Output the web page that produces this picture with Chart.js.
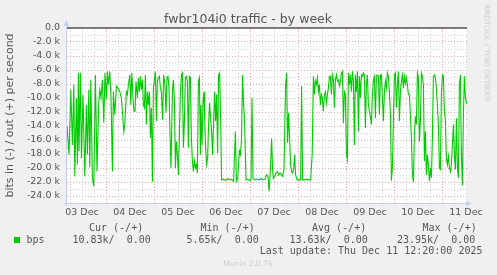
<!DOCTYPE html>
<html>
<head>
<meta charset="utf-8">
<script src="https://cdn.jsdelivr.net/npm/chart.js@4/dist/chart.umd.min.js"></script>
<style>
  body { margin: 0; background: #f0f0f0; }
  #wrap { position: relative; width: 497px; height: 275px; background: #f0f0f0; overflow: hidden; }
  canvas { position: absolute; left: 0; top: 0; }
  .t { position: absolute; white-space: pre; font: 10px 'DejaVu Sans Mono', monospace; color: #555; line-height: 12px; }
  .title { position: absolute; left: 0; width: 496px; text-align: center; top: 11px; font: 12.5px 'DejaVu Sans', sans-serif; color: #555; line-height: 15px; }
  .side { position: absolute; left: 487px; top: 53px; transform: translate(-50%, -50%) rotate(90deg); font: 7.5px 'DejaVu Sans', sans-serif; color: #ccc; white-space: nowrap; }
  .munin { position: absolute; left: 0; width: 496px; text-align: center; top: 259px; font: 7.5px 'DejaVu Sans', sans-serif; color: #ccc; line-height: 10px; }
  .sq { position: absolute; left: 14px; top: 237px; width: 6px; height: 6px; background: #00cc00; }
</style>
</head>
<body>
<div id="wrap">
  <canvas id="chart" width="497" height="275"></canvas>
  <div class="title">fwbr104i0 traffic - by week</div>
  <div class="side">RRDTOOL / TOBI OETIKER</div>
  <div id="legend"></div>
  <div class="munin">Munin 2.0.76</div>
</div>
<script>
// hours since 03 Dec 00:00
const hours = [
  4.5, 5.5, 6.4, 7.2, 7.9, 8.4, 9.2, 9.7, 10.2, 10.5, 11.2, 11.7, 12.5, 13.4, 14.2, 14.7, 15.4, 15.9, 16.4, 17.2,
  17.9, 18.7, 19.5, 20.4, 20.9, 21.5, 22.2, 22.9, 23.5, 24.2, 24.7, 25.2, 25.9, 26.5, 27.2, 27.7, 28.4, 29.2, 30.0, 30.9,
  31.7, 32.2, 32.9, 33.4, 34.2, 34.7, 35.2, 35.9, 36.4, 36.9, 37.5, 38.0,
  38.5, 39.0, 39.7, 40.2, 40.7, 41.2, 41.7, 42.2, 42.7, 43.2, 43.7, 44.2, 44.7, 45.2, 45.7, 46.2, 46.7, 47.2, 47.7, 48.2,
  48.7, 49.2, 49.7, 50.2, 50.7, 51.2, 51.7, 52.3, 52.8, 53.5, 54.0, 54.5, 55.0, 55.5, 56.0, 56.5, 57.2, 57.7, 58.2, 58.7,
  59.2, 59.7, 60.2, 60.7, 61.2, 61.7, 62.2, 62.7, 63.2, 63.7, 64.2, 64.7, 65.2, 65.7, 66.2, 66.7, 67.2, 67.7, 68.2, 68.7,
  69.2, 69.7, 70.2, 70.7, 71.2,
  71.5, 72.0, 72.5, 73.0, 73.3, 73.8, 74.3, 74.8, 75.3, 75.8, 76.3, 76.8, 77.3, 77.8, 78.3, 78.8, 79.3, 79.8, 80.3, 80.8,
  81.3, 81.8, 82.8, 83.8, 84.8, 85.8, 86.8, 87.8, 88.7, 89.2, 89.8, 90.7, 91.2, 91.7, 92.3, 92.8, 93.3, 94.0, 95.0, 96.0,
  96.5, 97.0, 97.5, 98.5, 99.5, 100.5, 101.5, 102.5, 103.5, 104.2,
  105.0, 105.6, 106.2, 106.8, 107.3, 107.7, 108.3, 109.0, 109.7, 110.3, 111.0, 112.2, 113.0, 113.8, 114.3, 114.8, 115.3,
  115.8, 116.3, 116.8, 117.3, 117.8, 118.3, 118.8, 119.6, 120.5, 121.3, 121.8, 122.3, 123.3, 124.3, 125.3, 126.3, 127.1,
  127.7, 128.2, 128.7, 129.2, 129.7, 130.2, 130.7, 131.2, 131.7, 132.2, 132.7, 133.2, 133.7, 134.2, 134.7, 135.2, 135.7,
  136.2, 136.7, 137.2, 137.7, 138.2, 138.7,
  139.2, 139.7, 140.2, 140.7, 141.2, 141.7, 142.2, 142.7, 143.2, 143.7, 144.2, 144.7, 145.2, 145.7, 146.2, 146.7, 147.2,
  147.7, 148.2, 148.7, 149.2, 149.7, 150.2, 150.7, 151.2, 151.7, 152.2, 152.7, 153.2, 153.7, 154.2, 154.7, 155.2, 155.7,
  156.2, 156.7, 157.2, 157.7, 158.2, 158.7, 159.2, 159.7, 160.2, 160.7, 161.2, 161.7, 162.2, 162.7, 163.2, 163.7, 164.2,
  164.7, 165.2, 165.7, 166.2, 166.7, 167.2, 167.7, 168.2, 168.7, 169.2, 169.7, 170.2, 170.7, 171.2, 171.7,
  172.2, 172.7, 173.2, 173.7, 174.2, 174.7, 175.2, 175.7, 176.2, 176.7, 177.2, 177.7, 178.2, 178.7, 179.2, 179.7, 180.2,
  180.7, 181.2, 181.7, 182.2, 182.7, 183.2, 183.7, 184.2, 184.7, 185.2, 185.7, 186.2, 186.7, 187.2, 187.7, 188.2, 188.7,
  189.2, 189.7, 190.2, 190.7, 191.2, 191.7, 192.2, 192.7, 193.2, 193.7, 194.2, 194.7, 195.2, 195.7, 196.2, 196.7, 197.2,
  197.7, 198.2, 198.7, 199.2, 199.7, 200.2, 200.7, 201.2, 201.7, 202.2, 202.7, 203.2, 203.7, 204.4
];
// bits in, thousands (plotted negative)
const bitsIn = [
  -14.0, -18.1, -8.8, -16.7, -8.1, -21.2, -10.0, -19.5, -6.4, -17.6, -6.4, -18.6, -9.5, -21.2, -11.0, -18.1, -8.8, -19.9, -7.4, -21.5,
  -22.6, -6.7, -20.5, -10.5, -8.8, -10.0, -7.4, -13.5, -6.4, -10.2, -6.2, -8.1, -6.2, -10.0, -20.5, -9.1, -12.4, -8.3, -8.6, -9.1,
  -10.0, -11.9, -14.8, -13.8, -9.1, -9.5, -8.1, -6.7, -11.0, -6.4, -10.0, -11.9,
  -11.9, -7.6, -10.0, -7.1, -9.1, -6.9, -8.8, -7.4, -11.0, -11.4, -6.7, -13.8, -9.1, -11.0, -9.1, -15.7, -11.4, -22.0, -8.6, -7.4,
  -6.2, -13.3, -7.6, -7.1, -6.9, -8.6, -9.1, -13.1, -6.7, -8.1, -12.1, -7.1, -6.9, -8.6, -15.2, -20.0, -9.1, -7.4, -10.5, -20.0,
  -16.2, -18.1, -21.0, -15.2, -9.1, -6.7, -6.4, -17.1, -13.3, -7.1, -6.9, -7.6, -17.1, -6.9, -7.1, -15.7, -19.0, -20.5, -19.0, -20.0,
  -19.5, -20.7, -7.6, -7.1, -18.1,
  -11.0, -16.7, -10.7, -9.1, -12.9, -17.1, -19.5, -18.6, -13.8, -10.7, -12.9, -14.8, -18.1, -13.3, -9.1, -13.3, -9.5, -17.9, -6.7, -6.4,
  -12.4, -21.7, -21.6, -21.8, -21.5, -21.7, -21.6, -21.9, -14.8, -21.9, -21.5, -17.6, -18.1, -16.2, -6.7, -11.0, -13.3, -21.7, -21.6, -21.8,
  -21.7, -10.0, -21.5, -21.7, -21.6, -21.7, -21.5, -21.7, -21.6, -21.0,
  -21.2, -23.3, -20.0, -15.8, -20.3, -21.5, -21.2, -20.7, -20.5, -21.0, -20.7, -21.2, -20.2, -8.1, -6.4, -16.4, -12.1,
  -15.7, -19.5, -20.5, -20.7, -20.2, -18.1, -21.0, -21.7, -21.7, -21.7, -8.3, -21.7, -21.7, -21.6, -21.7, -21.7, -18.1,
  -6.9, -9.5, -7.6, -8.1, -7.1, -9.1, -8.1, -11.0, -9.5, -10.0, -11.9, -9.5, -9.1, -10.7, -9.5, -8.6, -6.9,
  -6.9, -9.5, -6.7, -7.4, -11.4, -7.4,
  -6.7, -7.6, -7.4, -8.3, -7.6, -6.4, -6.2, -13.6, -9.1, -9.5, -18.1, -18.8, -6.4, -8.1, -6.7, -9.1, -6.2,
  -7.6, -16.7, -6.7, -9.1, -6.2, -14.8, -6.9, -10.0, -6.7, -6.9, -6.4, -6.7, -14.3, -8.1, -6.7, -11.0, -11.9,
  -12.6, -13.8, -9.5, -7.4, -6.9, -12.9, -6.9, -6.7, -6.9, -12.4, -6.7, -6.7, -10.0, -13.3, -9.1, -7.6, -8.6,
  -6.4, -6.9, -9.1, -12.1, -21.8, -20.0, -13.3, -6.7, -6.4, -11.4, -8.1, -6.2, -13.3, -9.1, -7.6,
  -6.7, -8.6, -6.9, -7.9, -7.1, -8.1, -9.5, -9.5, -12.4, -15.7, -21.0, -22.0, -15.2, -12.6, -13.8, -6.4, -7.1,
  -16.2, -13.3, -6.4, -6.9, -8.1, -19.0, -14.8, -21.0, -18.1, -19.5, -21.9, -20.0, -21.4, -15.7, -6.9, -6.7, -7.1,
  -8.6, -11.0, -13.8, -20.0, -20.2, -9.5, -6.7, -6.9, -11.9, -13.3, -18.6, -19.5, -18.3, -20.0, -20.5, -19.5, -16.7,
  -13.8, -18.1, -20.2, -12.9, -20.0, -21.4, -8.1, -6.7, -18.1, -22.5, -12.4, -6.9, -10.0, -10.83
];
const outHours = [4.5, 204.5];
const bitsOut = [0, 0];

const dayLabels = ['03 Dec', '04 Dec', '05 Dec', '06 Dec', '07 Dec', '08 Dec', '09 Dec', '10 Dec', '11 Dec'];
const labelHours = [12, 36, 60, 84, 108, 132, 156, 180, 204];

const legendHeads = ['Cur (-/+)', 'Min (-/+)', 'Avg (-/+)', 'Max (-/+)'];
const legendVals = ['10.83k/  0.00', '5.65k/  0.00', '13.63k/  0.00', '23.95k/  0.00'];
const headX = [89, 200.5, 312, 422.5];
const valX = [72.5, 186.5, 289.5, 397];

// legend text
const leg = document.getElementById('legend');
function addText(txt, left, top) {
  const d = document.createElement('div');
  d.className = 't';
  d.textContent = txt;
  d.style.left = left + 'px';
  d.style.top = top + 'px';
  leg.appendChild(d);
}
legendHeads.forEach((h, i) => addText(h, headX[i], 222));
addText('bps', 26.5, 233.5);
legendVals.forEach((v, i) => addText(v, valX[i], 233.5));
const sq = document.createElement('div');
sq.className = 'sq';
leg.appendChild(sq);
const upd = document.createElement('div');
upd.className = 't';
upd.textContent = 'Last update: Thu Dec 11 12:20:00 2025';
upd.style.right = (497 - 482.5) + 'px';
upd.style.top = '245px';
leg.appendChild(upd);

const gridHours = [];
for (let h = 6; h <= 204; h += 6) gridHours.push(h);
const gridVals = [];
for (let v = -24000; v <= 0; v += 1000) gridVals.push(v);

const inData = hours.map((h, i) => ({ x: h, y: bitsIn[i] * 1000 }));
const outData = outHours.map((h, i) => ({ x: h, y: bitsOut[i] }));

const plotBg = {
  id: 'plotBg',
  beforeDraw(chart) {
    const { ctx, chartArea: a } = chart;
    ctx.save();
    ctx.fillStyle = '#ffffff';
    ctx.fillRect(a.left, a.top, a.right - a.left, a.bottom - a.top);
    ctx.restore();
  },
  afterDraw(chart) {
    // rrdtool style axes with arrow heads
    const { ctx, chartArea: a } = chart;
    ctx.save();
    ctx.strokeStyle = '#c8cef0';
    ctx.fillStyle = '#c8cef0';
    ctx.lineWidth = 1;
    ctx.beginPath();
    ctx.moveTo(a.left - 0.5, a.bottom + 3);
    ctx.lineTo(a.left - 0.5, a.top - 4);
    ctx.moveTo(a.left - 3, a.bottom + 0.5);
    ctx.lineTo(a.right + 3, a.bottom + 0.5);
    ctx.stroke();
    ctx.beginPath();
    ctx.moveTo(a.left - 0.5, a.top - 8);
    ctx.lineTo(a.left - 3.5, a.top - 2);
    ctx.lineTo(a.left + 2.5, a.top - 2);
    ctx.closePath();
    ctx.fill();
    ctx.beginPath();
    ctx.moveTo(a.right + 5, a.bottom + 0.5);
    ctx.lineTo(a.right - 1, a.bottom - 2.5);
    ctx.lineTo(a.right - 1, a.bottom + 3.5);
    ctx.closePath();
    ctx.fill();
    ctx.restore();
  }
};

new Chart(document.getElementById('chart'), {
  type: 'line',
  data: {
    datasets: [
      {
        label: 'bps',
        data: inData,
        borderColor: '#00cc00',
        borderWidth: 1.1,
        pointRadius: 0,
        tension: 0,
        fill: false
      },
      {
        label: 'bps out',
        data: outData,
        borderColor: '#000000',
        borderWidth: 1.2,
        pointRadius: 0,
        clip: false,
        fill: false
      }
    ]
  },
  options: {
    responsive: false,
    animation: false,
    layout: { padding: { top: 28, right: 30, left: 0, bottom: 0 } },
    plugins: { legend: { display: false }, tooltip: { enabled: false } },
    scales: {
      x: {
        type: 'linear',
        min: 4.5,
        max: 204.5,
        afterBuildTicks: (scale) => { scale.ticks = gridHours.map(v => ({ value: v })); },
        afterFit: (scale) => { scale.height = 72; },
        border: { display: false, dash: [1, 2] },
        grid: {
          drawTicks: false,
          color: (c) => (c.tick && c.tick.value % 24 === 0) ? '#e8a8a8' : '#d4d4d4'
        },
        ticks: {
          autoSkip: false,
          maxRotation: 0,
          padding: 4,
          color: '#555',
          font: { family: 'DejaVu Sans', size: 9.5 },
          callback: (v) => {
            const i = labelHours.indexOf(v);
            return i >= 0 ? dayLabels[i] : '';
          }
        }
      },
      y: {
        min: -25000,
        max: 0,
        afterBuildTicks: (scale) => { scale.ticks = gridVals.map(v => ({ value: v })); },
        afterFit: (scale) => { scale.width = 67; },
        border: { display: false, dash: [1, 2] },
        grid: {
          drawTicks: false,
          color: (c) => {
            if (!c.tick) return '#d4d4d4';
            const v = c.tick.value;
            if (v === 0) return 'rgba(0,0,0,0)';
            return v % 2000 === 0 ? '#e8a8a8' : '#d4d4d4';
          }
        },
        ticks: {
          autoSkip: false,
          padding: 7,
          color: '#555',
          font: { family: 'DejaVu Sans', size: 9.5 },
          callback: (v) => {
            if (v % 2000 !== 0) return '';
            return v === 0 ? '0.0' : (v / 1000).toFixed(1) + ' k';
          }
        },
        title: {
          display: true,
          text: 'bits in (-) / out (+) per second',
          color: '#555',
          font: { family: 'DejaVu Sans', size: 11 },
          padding: { top: 4, bottom: 0 }
        }
      }
    }
  },
  plugins: [plotBg]
});
</script>
</body>
</html>
